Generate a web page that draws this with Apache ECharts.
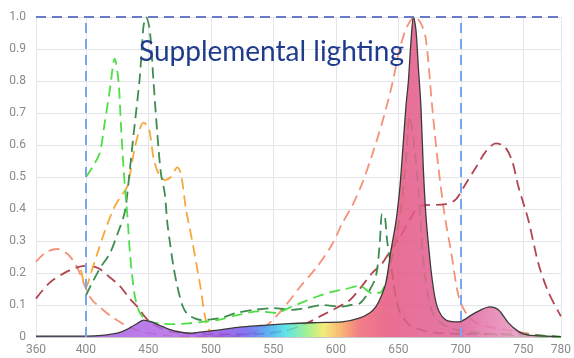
<!DOCTYPE html>
<html>
<head>
<meta charset="utf-8">
<script src="https://cdn.jsdelivr.net/npm/echarts@6/dist/echarts.min.js"></script>
<style>
  html, body { margin: 0; padding: 0; background: #fff; }
  #chart { width: 574px; height: 358px; }
</style>
</head>
<body>
<div id="chart"></div>
<script>
// axis ticks (wavelength nm / relative intensity)
const xTicks = [360, 400, 450, 500, 550, 600, 650, 700, 750, 780];
const yMin = 0, yMax = 1, yStep = 0.1;
const bandEdges = [400, 700];   // blue dashed verticals
const topLevel = [1.0];         // blue dashed top line
const titleText = "Supplemental lighting";

// lamp spectrum (filled)
const lampSpectrum = [[360,0.003],[400,0.003],[415,0.006],[425,0.012],[432,0.022],[440,0.04],[446,0.053],[452,0.048],[458,0.038],[464,0.028],[472,0.018],[483,0.012],[495,0.017],[507,0.022],[523,0.031],[540,0.036],[563,0.042],[585,0.045],[605,0.047],[618,0.058],[627,0.075],[632,0.095],[636,0.125],[640,0.17],[644,0.27],[648,0.36],[651,0.46],[653,0.56],[656,0.72],[658,0.8],[660,0.92],[662,1.0],[664,0.96],[666,0.84],[668,0.72],[670,0.52],[672,0.38],[674,0.29],[677,0.18],[681,0.095],[688,0.053],[698,0.047],[709,0.07],[716,0.085],[723,0.094],[730,0.085],[738,0.044],[745,0.02],[750,0.01],[758,0.004],[780,0.001]];

// dashed absorption curves
const salmonCurve = [[360,0.235],[368,0.265],[377,0.275],[385,0.26],[392,0.225],[398,0.17],[404,0.12],[412,0.09],[420,0.065],[430,0.04],[440,0.022],[450,0.012],[465,0.005],[480,0.002],[520,0.003],[535,0.015],[547,0.044],[560,0.1],[572,0.16],[585,0.22],[597,0.29],[605,0.355],[613,0.41],[621,0.48],[629,0.57],[637,0.67],[645,0.79],[651,0.9],[657,0.97],[663,1.0],[668,0.98],[672,0.93],[677,0.72],[682,0.53],[687,0.38],[692,0.27],[698,0.13],[704,0.075],[712,0.045],[725,0.03],[740,0.02],[752,0.012],[765,0.004],[780,0]];
const darkRedCurve = [[360,0.12],[371,0.17],[385,0.205],[395,0.22],[402,0.222],[410,0.215],[418,0.19],[427,0.16],[435,0.12],[441,0.095],[449,0.055],[458,0.03],[470,0.015],[485,0.01],[510,0.008],[540,0.01],[560,0.02],[575,0.04],[590,0.07],[600,0.09],[611,0.115],[620,0.155],[629,0.2],[637,0.23],[645,0.28],[651,0.31],[661,0.38],[668,0.41],[688,0.415],[696,0.43],[704,0.48],[712,0.53],[720,0.58],[728,0.605],[735,0.595],[741,0.55],[746,0.47],[754,0.365],[762,0.23],[770,0.14],[780,0.065]];
const orangeCurve = [[396,0.21],[400,0.155],[404,0.2],[409,0.26],[415,0.33],[422,0.4],[428,0.44],[433,0.47],[439,0.59],[443,0.65],[446,0.67],[449,0.66],[451,0.64],[454,0.56],[457,0.52],[460,0.5],[463,0.49],[468,0.5],[473,0.53],[476,0.51],[480,0.4],[485,0.3],[491,0.17],[496,0.05],[500,0.01]];
const lightGreenCurve = [[400,0.5],[405,0.53],[411,0.575],[415,0.67],[419,0.77],[423,0.87],[426,0.8],[428,0.66],[430,0.53],[432,0.43],[433,0.385],[434,0.33],[435,0.27],[437,0.19],[439,0.13],[442,0.085],[446,0.06],[451,0.047],[460,0.042],[470,0.04],[483,0.043],[495,0.048],[505,0.053],[523,0.07],[538,0.08],[552,0.075],[562,0.09],[571,0.105],[584,0.125],[596,0.14],[608,0.15],[619,0.16],[629,0.137],[636,0.14],[645,0.25],[652,0.4],[656,0.55],[659,0.69],[662,0.62],[666,0.46],[671,0.2],[678,0.07],[690,0.03],[710,0.015],[740,0.005],[780,0]];
const darkGreenCurve = [[400,0.13],[405,0.17],[412,0.22],[419,0.26],[425,0.32],[431,0.39],[435,0.52],[438,0.63],[443,0.81],[446,0.97],[448,1.0],[451,0.96],[454,0.8],[457,0.64],[460,0.51],[463,0.45],[465,0.36],[467,0.3],[470,0.22],[473,0.16],[477,0.1],[481,0.072],[487,0.058],[493,0.053],[500,0.055],[509,0.06],[520,0.075],[535,0.085],[550,0.09],[565,0.085],[575,0.09],[590,0.1],[603,0.095],[612,0.1],[619,0.105],[626,0.14],[632,0.19],[635,0.29],[637,0.385],[639,0.38],[641,0.3],[645,0.2],[650,0.09],[658,0.04],[666,0.025],[680,0.013],[700,0.01],[750,0.008],[780,0]];

const myChart = echarts.init(document.getElementById("chart"));

// rainbow fill, offsets taken from wavelength
const xSpan = xTicks[xTicks.length - 1] - xTicks[0];
const rainbow = [
  [360, "#7a44c8"], [425, "#a862e2"], [470, "#b46ae8"], [510, "#9152e6"],
  [530, "#6a64f0"], [545, "#42a2f2"], [560, "#44e0e6"], [577, "#92f07e"],
  [590, "#f2e862"], [604, "#f8aa5a"], [618, "#f06872"], [640, "#e6557f"],
  [700, "#df5f98"], [740, "#e78fbb"], [780, "#f0b2d2"]
].map(function (s) {
  return { offset: (s[0] - xTicks[0]) / xSpan, color: s[1] };
});

function dashed(name, data, color) {
  return {
    name: name,
    type: "line",
    data: data,
    smooth: 0.3,
    symbol: "none",
    z: 2,
    lineStyle: { color: color, width: 1.8, type: [11, 6] }
  };
}

myChart.setOption({
  animation: false,
  title: {
    text: titleText,
    left: 139,
    top: 38,
    padding: 0,
    textStyle: {
      color: "#1f3c8c",
      fontFamily: "Lato",
      fontSize: 28,
      fontWeight: "normal"
    }
  },
  grid: { left: 36, right: 12, top: 17, bottom: 21 },
  xAxis: {
    type: "value",
    min: xTicks[0],
    max: xTicks[xTicks.length - 1],
    axisLine: { show: true, lineStyle: { color: "#c8c8c8" } },
    axisTick: { show: false, customValues: xTicks },
    axisLabel: {
      customValues: xTicks,
      color: "#8a8a8a",
      fontFamily: "Roboto",
      fontSize: 12,
      margin: 7
    },
    splitLine: { show: true, lineStyle: { color: "#e4e5ea" } }
  },
  yAxis: {
    type: "value",
    min: yMin,
    max: yMax,
    interval: yStep,
    axisLine: { show: false },
    axisTick: { show: false },
    axisLabel: {
      color: "#8a8a8a",
      fontFamily: "Roboto",
      fontSize: 12,
      margin: 10,
      formatter: function (v) { return v === 0 ? "0" : v.toFixed(1); }
    },
    splitLine: { show: true, lineStyle: { color: "#e4e5ea" } }
  },
  series: [
    dashed("salmon", salmonCurve, "#f39277"),
    dashed("darkred", darkRedCurve, "#b24650"),
    dashed("orange", orangeCurve, "#f7a83a"),
    dashed("darkgreen", darkGreenCurve, "#3e8c50"),
    dashed("lightgreen", lightGreenCurve, "#4ede48"),
    {
      name: "lamp",
      type: "line",
      data: lampSpectrum,
      smooth: 0.3,
      symbol: "none",
      z: 3,
      lineStyle: { color: "#3a3a3a", width: 1.3 },
      areaStyle: {
        opacity: 0.85,
        color: { type: "linear", x: 0, y: 0, x2: 1, y2: 0, colorStops: rainbow }
      },
      markLine: {
        silent: true,
        symbol: "none",
        label: { show: false },
        data: bandEdges.map(function (v) {
          return { xAxis: v, lineStyle: { color: "#7aa6ee", width: 2, type: [10, 6] } };
        }).concat(topLevel.map(function (v) {
          return { yAxis: v, lineStyle: { color: "#6a7ac8", width: 1.8, type: [10, 6] } };
        }))
      }
    }
  ]
});
</script>
</body>
</html>
